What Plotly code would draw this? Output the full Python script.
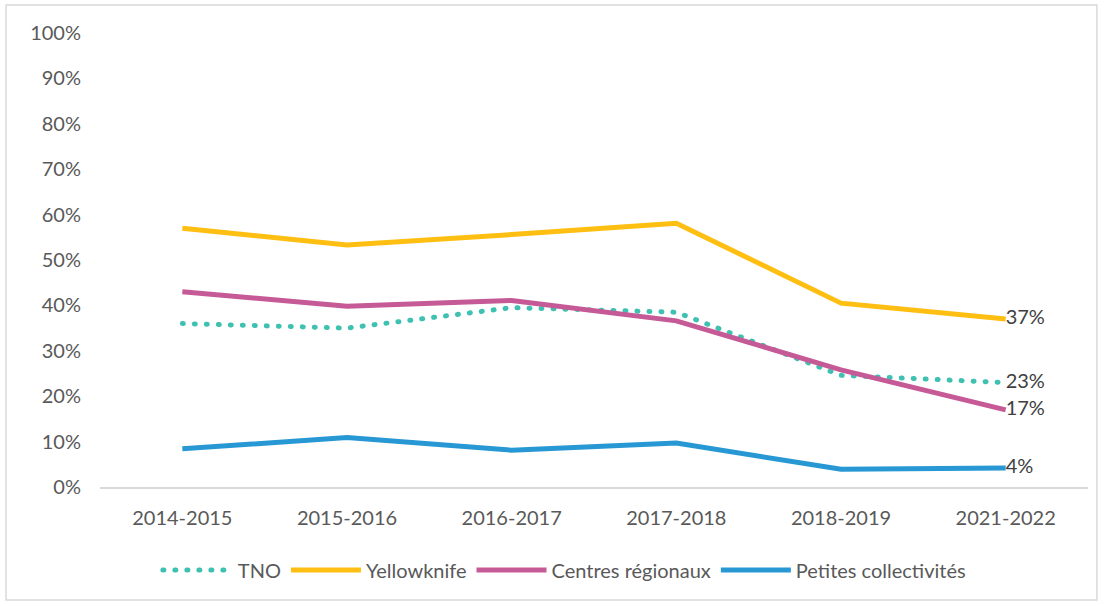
import plotly.graph_objects as go

categories = ["2014-2015", "2015-2016", "2016-2017", "2017-2018", "2018-2019", "2021-2022"]
tno = [0.36, 0.35, 0.395, 0.385, 0.246, 0.23]
yellowknife = [0.57, 0.533, 0.556, 0.581, 0.405, 0.37]
centres = [0.43, 0.398, 0.411, 0.366, 0.258, 0.17]
petites = [0.084, 0.109, 0.081, 0.097, 0.039, 0.042]
end_labels = ["23%", "37%", "17%", "4%"]

series = [
    ("TNO", tno, "#3EC1B1", "1px,11px", end_labels[0]),
    ("Yellowknife", yellowknife, "#FFBE12", "solid", end_labels[1]),
    ("Centres régionaux", centres, "#C55A96", "solid", end_labels[2]),
    ("Petites collectivités", petites, "#2898D4", "solid", end_labels[3]),
]

FONT = "Lato, Open Sans, sans-serif"
fig = go.Figure()
for name, vals, color, dash, lab in series:
    txt = [""] * (len(vals) - 1) + [lab]
    fig.add_trace(go.Scatter(
        x=categories, y=vals, name=name, mode="lines+text",
        line=dict(color=color, width=5, dash=dash),
        text=txt, textposition="middle right",
        textfont=dict(family=FONT, size=20, color="#404040"),
        cliponaxis=False,
    ))

fig.update_layout(
    width=1104, height=606,
    margin=dict(l=100, r=16, t=33, b=119),
    paper_bgcolor="white", plot_bgcolor="white",
    font=dict(family=FONT, size=20, color="#595959"),
    xaxis=dict(showgrid=False, showline=True, linecolor="#D9D9D9", linewidth=1.5,
               ticks="", tickfont=dict(size=20, color="#595959"), range=[-0.5, 5.5],
               ticklabelstandoff=12),
    yaxis=dict(range=[0, 1], dtick=0.1, tickformat=".0%", showgrid=False,
               showline=False, zeroline=False, ticks="",
               tickfont=dict(size=20, color="#595959"), ticklabelstandoff=18),
    legend=dict(orientation="h", x=0.47, xanchor="center", y=-0.14, yanchor="top",
                font=dict(size=20, color="#595959"), itemwidth=70, traceorder="normal"),
    showlegend=True,
)
fig.add_shape(type="rect", xref="paper", yref="paper",
              x0=-0.0951, x1=1.009, y0=-0.2489, y1=1.0617,
              line=dict(color="#D9D9D9", width=1.5), fillcolor="rgba(0,0,0,0)", layer="below")

post = """
document.body.style.margin='0';
function fixCaps(){
  document.querySelectorAll('.scatterlayer .trace:first-child path.js-line, .legend .traces:first-child path.js-line').forEach(function(p){
    p.style.strokeLinecap='round';
  });
}
fixCaps();
setTimeout(fixCaps, 100);
"""
fig.write_html("out.html", post_script=post, config={"displayModeBar": False})
